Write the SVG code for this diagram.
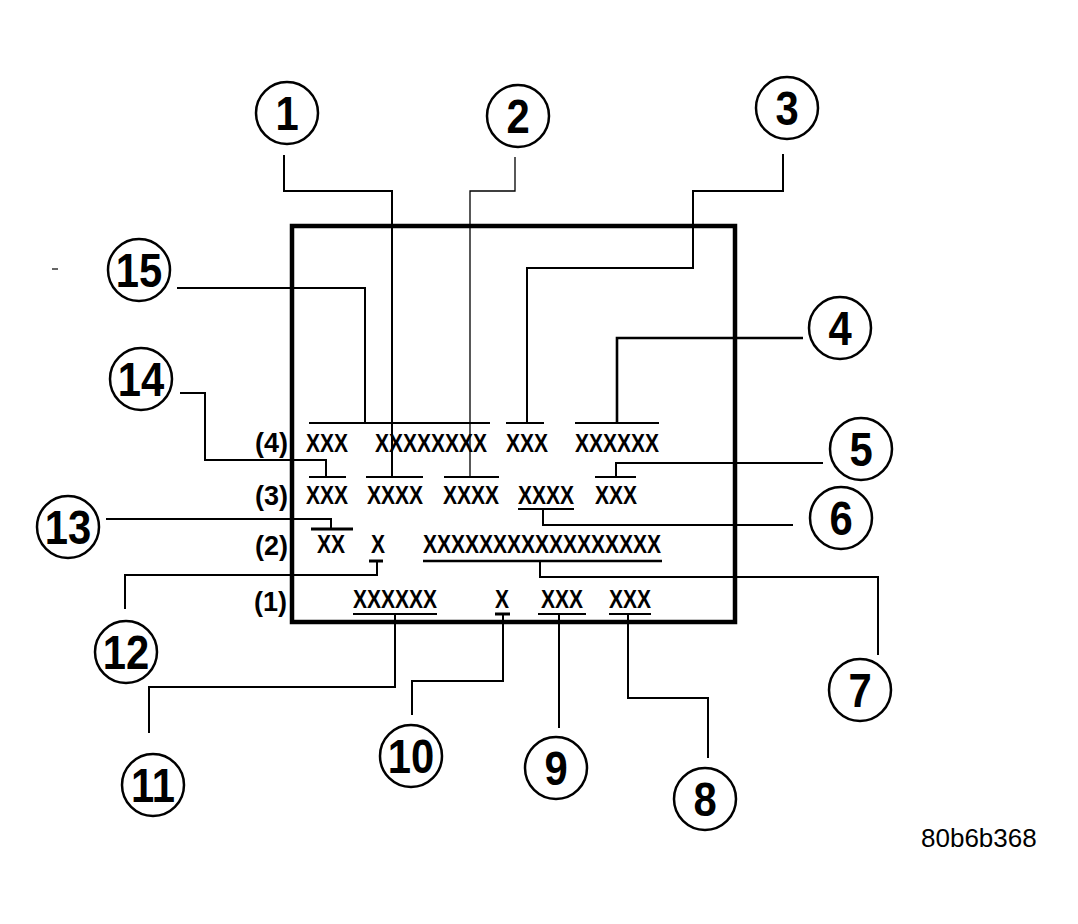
<svg xmlns="http://www.w3.org/2000/svg" width="1078" height="924" viewBox="0 0 1078 924">
<style>
.bg{fill:#fff}
.frame{fill:none;stroke:#000;stroke-width:4.5}
.c{fill:none;stroke:#000;stroke-width:2}
.thin{fill:none;stroke:#000;stroke-width:1.3}
.med{fill:none;stroke:#000;stroke-width:2.6}
.mk{stroke:#000;stroke-width:2}
.mkb{stroke:#000;stroke-width:3}
.ring{fill:#fff;stroke:#000;stroke-width:2.5}
.num{font-family:"Liberation Sans",Arial,sans-serif;font-weight:bold;font-size:48px;text-anchor:middle;fill:#000}
.lbl{font-family:"Liberation Sans",Arial,sans-serif;font-weight:bold;font-size:27px;text-anchor:end;fill:#000}
.x{font-family:"Liberation Sans",Arial,sans-serif;font-weight:bold;font-size:21px;fill:#000}
.ref{font-family:"Liberation Sans",Arial,sans-serif;font-size:26px;fill:#000}
</style>
<rect class="bg" x="0" y="0" width="1078" height="924"/>
<line x1="52" y1="269" x2="58" y2="269" stroke="#000" stroke-width="1.2"/>
<g id="frame">
<rect class="frame" x="292" y="226" width="443" height="396"/>
</g>
<g id="connectors">
<path class="c" d="M284,155 V191 H392 V477"/>
<path class="thin" d="M515,157 V191 H470 V477"/>
<path class="c" d="M783,154 V191 H693 V268 H527 V423"/>
<path class="med" d="M803,338 H617 V423"/>
<path class="c" d="M823,463 H616 V477"/>
<path class="c" d="M793,525 H543 V509"/>
<path class="c" d="M540,561 V577 H878 V655"/>
<path class="c" d="M628,614 V698 H708 V758"/>
<path class="c" d="M559,614 V728"/>
<path class="c" d="M503,614 V681 H412 V715"/>
<path class="c" d="M395,614 V687 H149 V733"/>
<path class="c" d="M377,561 V575 H125 V609"/>
<path class="c" d="M106,519 H331 V529"/>
<path class="c" d="M180,393 H205 V460 H326 V477"/>
<path class="c" d="M177,288 H365 V423"/>
</g>
<g id="rows">
<text class="lbl" x="288" y="452">(4)</text>
<text class="lbl" x="288" y="505">(3)</text>
<text class="lbl" x="288" y="555">(2)</text>
<text class="lbl" x="287" y="611">(1)</text>
</g>
<g id="row4">
<line class="mk" x1="309" y1="423" x2="490" y2="423"/>
<line class="mk" x1="506" y1="423" x2="544" y2="423"/>
<line class="mk" x1="575" y1="423" x2="659" y2="423"/>
<text class="x" transform="translate(306,452) scale(1,1.27)">XXX</text>
<text class="x" transform="translate(375,452) scale(1,1.27)">XXXXXXXX</text>
<text class="x" transform="translate(506,452) scale(1,1.27)">XXX</text>
<text class="x" transform="translate(575,452) scale(1,1.27)">XXXXXX</text>
</g>
<g id="row3">
<line class="mk" x1="309" y1="477" x2="346" y2="477"/>
<line class="mk" x1="366" y1="477" x2="423" y2="477"/>
<line class="mk" x1="444" y1="477" x2="499" y2="477"/>
<line class="mk" x1="595" y1="477" x2="636" y2="477"/>
<line class="mk" x1="518" y1="509" x2="574" y2="509"/>
<text class="x" transform="translate(306,504) scale(1,1.27)">XXX</text>
<text class="x" transform="translate(367,504) scale(1,1.27)">XXXX</text>
<text class="x" transform="translate(443,504) scale(1,1.27)">XXXX</text>
<text class="x" transform="translate(518,504) scale(1,1.27)">XXXX</text>
<text class="x" transform="translate(595,504) scale(1,1.27)">XXX</text>
</g>
<g id="row2">
<line class="mkb" x1="311" y1="529" x2="353" y2="529"/>
<line class="mkb" x1="369" y1="561" x2="383" y2="561"/>
<line class="med" x1="423" y1="561" x2="662" y2="561"/>
<text class="x" transform="translate(317,553) scale(1,1.27)">XX</text>
<text class="x" transform="translate(371,553) scale(1,1.27)">X</text>
<text class="x" transform="translate(423,553) scale(1,1.27)">XXXXXXXXXXXXXXXXX</text>
</g>
<g id="row1">
<line class="mk" x1="353" y1="614" x2="437" y2="614"/>
<line class="mkb" x1="495" y1="614" x2="510" y2="614"/>
<line class="mk" x1="538" y1="614" x2="586" y2="614"/>
<line class="mk" x1="609" y1="614" x2="651" y2="614"/>
<text class="x" transform="translate(353,608) scale(1,1.27)">XXXXXX</text>
<text class="x" transform="translate(495,608) scale(1,1.27)">X</text>
<text class="x" transform="translate(541,608) scale(1,1.27)">XXX</text>
<text class="x" transform="translate(609,608) scale(1,1.27)">XXX</text>
</g>
<g id="n1"><circle class="ring" cx="287" cy="113" r="31"/><text class="num" transform="translate(287,130) scale(0.87,1)">1</text></g>
<g id="n2"><circle class="ring" cx="518" cy="116" r="31"/><text class="num" transform="translate(518,133) scale(0.87,1)">2</text></g>
<g id="n3"><circle class="ring" cx="787" cy="108" r="31"/><text class="num" transform="translate(787,125) scale(0.87,1)">3</text></g>
<g id="n4"><circle class="ring" cx="840" cy="328" r="31"/><text class="num" transform="translate(840,345) scale(0.87,1)">4</text></g>
<g id="n5"><circle class="ring" cx="861" cy="449" r="31"/><text class="num" transform="translate(861,466) scale(0.87,1)">5</text></g>
<g id="n6"><circle class="ring" cx="841" cy="518" r="31"/><text class="num" transform="translate(841,535) scale(0.87,1)">6</text></g>
<g id="n7"><circle class="ring" cx="860" cy="690" r="31"/><text class="num" transform="translate(860,707) scale(0.87,1)">7</text></g>
<g id="n8"><circle class="ring" cx="705" cy="799" r="31"/><text class="num" transform="translate(705,816) scale(0.87,1)">8</text></g>
<g id="n9"><circle class="ring" cx="556" cy="768" r="31"/><text class="num" transform="translate(556,785) scale(0.87,1)">9</text></g>
<g id="n10"><circle class="ring" cx="411" cy="756" r="31"/><text class="num" transform="translate(411,773) scale(0.87,1)">10</text></g>
<g id="n11"><circle class="ring" cx="153" cy="785" r="31"/><text class="num" transform="translate(153,802) scale(0.87,1)">11</text></g>
<g id="n12"><circle class="ring" cx="126" cy="652" r="31"/><text class="num" transform="translate(126,669) scale(0.87,1)">12</text></g>
<g id="n13"><circle class="ring" cx="68" cy="527" r="31"/><text class="num" transform="translate(68,544) scale(0.87,1)">13</text></g>
<g id="n14"><circle class="ring" cx="141" cy="379" r="31"/><text class="num" transform="translate(141,396) scale(0.87,1)">14</text></g>
<g id="n15"><circle class="ring" cx="139" cy="270" r="31"/><text class="num" transform="translate(139,287) scale(0.87,1)">15</text></g>
<text class="ref" x="921" y="847">80b6b368</text>
</svg>
